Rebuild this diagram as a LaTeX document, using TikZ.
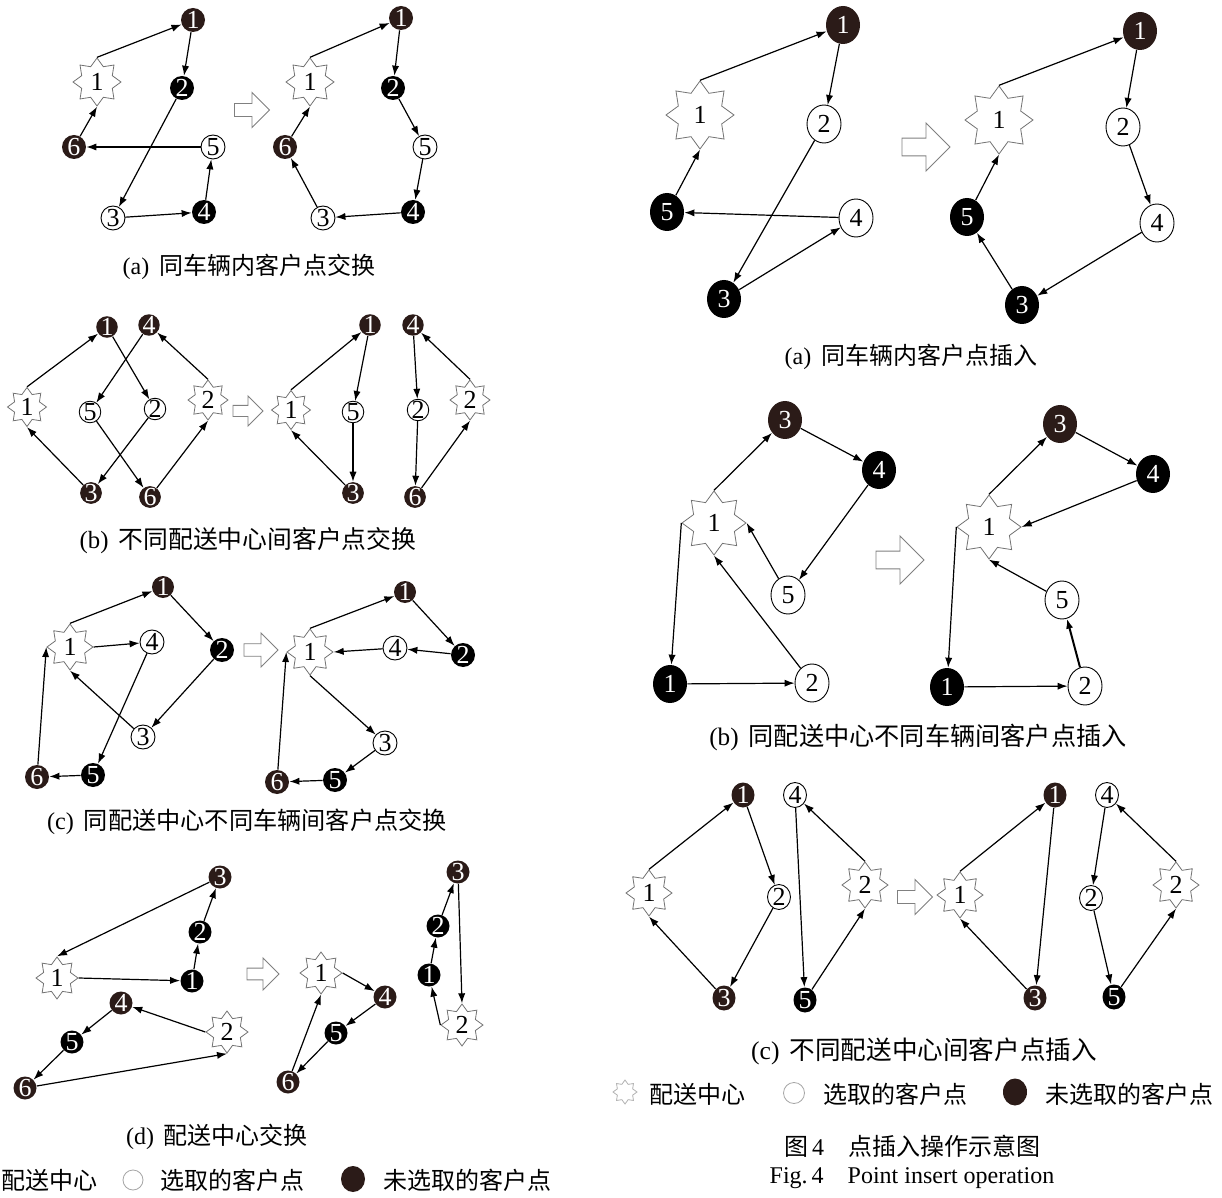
\documentclass[tikz,border=0pt]{standalone}
\usepackage{fontspec}
\setmainfont{Liberation Serif}
\newfontfamily\cjk{Noto Sans CJK SC}
\usetikzlibrary{shapes.geometric,arrows.meta}
\definecolor{nodebrown}{HTML}{2B1B18}
\definecolor{starline}{gray}{0.45}
\begin{document}
\begin{tikzpicture}[x=0.5pt,y=-0.5pt,
  num/.style={font=\fontsize{13}{13}\selectfont, inner sep=0pt},
  bn/.style={num, circle, fill=nodebrown, text=white, minimum size=#1},
  kn/.style={num, circle, fill=black, text=white, minimum size=#1},
  wn/.style={num, circle, draw=black, line width=0.45pt, fill=white, minimum size=#1},
  esz/.style 2 args={minimum width=#1, minimum height=#2},
  ebn/.style={num, ellipse, fill=nodebrown, text=white},
  ekn/.style={num, ellipse, fill=black, text=white},
  ewn/.style={num, ellipse, draw=black, line width=0.45pt, fill=white},
  st/.style={num, star, star points=8, star point ratio=1.45, draw=starline,
    line width=0.4pt, fill=white, minimum size=#1},
  arr/.style={draw, line width=0.6pt, -{Latex[length=5pt,width=3.6pt]}},
  captext/.style={font=\fontsize{#1}{#1}\selectfont, inner sep=0pt},
  captext/.default=12,
  harrow/.pic={\draw[line width=0.45pt, draw=gray]
    (-1,-0.37) -- (0,-0.37) -- (0,-1) -- (1,0) -- (0,1) -- (0,0.37) -- (-1,0.37) -- cycle;}
]
\fill[white] (0,0) rectangle (1222,1198);
\useasboundingbox (0,0) rectangle (1222,1198);

% ---------- (a) swap inside one vehicle ----------
\node[st=24pt] (a1s) at (97,82) {1};
\node[bn=12pt] (a11) at (193,20) {1};
\node[kn=12pt] (a12) at (182,88) {2};
\node[wn=12pt] (a13) at (113,218) {3};
\node[kn=12pt] (a14) at (204,212) {4};
\node[wn=12pt] (a15) at (213,147) {5};
\node[bn=12pt] (a16) at (74,147) {6};
\draw[arr] (a1s.90) -- (a11);
\draw[arr] (a11) -- (a12);
\draw[arr] (a12) -- (a13);
\draw[arr] (a13) -- (a14);
\draw[arr] (a14) -- (a15);
\draw[arr] (a15) -- (a16);
\draw[arr] (a16) -- (a1s.270);
\pic[scale=17.5] at (252,110) {harrow};
\node[st=24pt] (a2s) at (310,82) {1};
\node[bn=12pt] (a21) at (401,18) {1};
\node[kn=12pt] (a22) at (393,88) {2};
\node[wn=12pt] (a23) at (323,218) {3};
\node[kn=12pt] (a24) at (413,212) {4};
\node[wn=12pt] (a25) at (425,147) {5};
\node[bn=12pt] (a26) at (285,147) {6};
\draw[arr] (a2s.90) -- (a21);
\draw[arr] (a21) -- (a22);
\draw[arr] (a22) -- (a25);
\draw[arr] (a25) -- (a24);
\draw[arr] (a24) -- (a23);
\draw[arr] (a23) -- (a26);
\draw[arr] (a26) -- (a2s.270);
\node[captext] (capa) at (249,267) {(a)\hspace{5pt}{\cjk 同车辆内客户点交换}};

% ---------- (b) swap between depots ----------
\node[st=19.5pt] (b1s) at (27,407) {1};
\node[st=20pt] (b1t) at (208,400) {2};
\node[bn=10.5pt] (b11) at (107,327) {1};
\node[bn=10.5pt] (b14) at (149,325) {4};
\node[wn=10.5pt] (b15) at (90,412) {5};
\node[wn=10.5pt] (b12) at (155,409) {2};
\node[bn=10.5pt] (b13) at (91,493) {3};
\node[bn=10.5pt] (b16) at (150,497) {6};
\draw[arr] (b1s.90) -- (b11);
\draw[arr] (b11) -- (b12);
\draw[arr] (b12) -- (b13);
\draw[arr] (b13) -- (b1s.270);
\draw[arr] (b1t.90) -- (b14);
\draw[arr] (b14) -- (b15);
\draw[arr] (b15) -- (b16);
\draw[arr] (b16) -- (b1t.270);
\pic[scale=15] at (248,411) {harrow};
\node[st=19.5pt] (b2s) at (291,410) {1};
\node[st=20pt] (b2t) at (470,400) {2};
\node[bn=10.5pt] (b21) at (370,325) {1};
\node[wn=10.5pt] (b25) at (353,412) {5};
\node[bn=10.5pt] (b23) at (353,493) {3};
\node[bn=10.5pt] (b24) at (413,325) {4};
\node[wn=10.5pt] (b22) at (418,410) {2};
\node[bn=10.5pt] (b26) at (415,497) {6};
\draw[arr] (b2s.90) -- (b21);
\draw[arr] (b21) -- (b25);
\draw[arr] (b25) -- (b23);
\draw[arr] (b23) -- (b2s.270);
\draw[arr] (b2t.90) -- (b24);
\draw[arr] (b24) -- (b22);
\draw[arr] (b22) -- (b26);
\draw[arr] (b26) -- (b2t.270);
\node[captext=12.4] (capb) at (248,541) {(b)\hspace{5pt}{\cjk 不同配送中心间客户点交换}};

% ---------- (c) swap between vehicles of one depot ----------
\node[st=23pt] (c1s) at (70,647) {1};
\node[bn=11pt] (c11) at (163,587) {1};
\node[kn=12pt] (c12) at (222,650) {2};
\node[wn=12pt] (c13) at (143,737) {3};
\node[wn=12pt] (c14) at (152,642) {4};
\node[kn=12pt] (c15) at (93,775) {5};
\node[bn=12pt] (c16) at (37,777) {6};
\draw[arr] (c1s.90) -- (c11);
\draw[arr] (c11) -- (c12);
\draw[arr] (c12) -- (c13);
\draw[arr] (c13) -- (c1s.270);
\draw[arr] (c1s.0) -- (c14);
\draw[arr] (c14) -- (c15);
\draw[arr] (c15) -- (c16);
\draw[arr] (c16) -- (c1s.180);
\pic[scale=17] at (261,650) {harrow};
\node[st=23pt] (c2s) at (310,652) {1};
\node[bn=11pt] (c21) at (405,592) {1};
\node[kn=12pt] (c22) at (463,655) {2};
\node[wn=12pt] (c23) at (385,743) {3};
\node[wn=12pt] (c24) at (395,648) {4};
\node[kn=12pt] (c25) at (335,780) {5};
\node[bn=12pt] (c26) at (277,782) {6};
\draw[arr] (c2s.90) -- (c21);
\draw[arr] (c21) -- (c22);
\draw[arr] (c22) -- (c24);
\draw[arr] (c24) -- (c2s.0);
\draw[arr] (c2s.270) -- (c23);
\draw[arr] (c23) -- (c25);
\draw[arr] (c25) -- (c26);
\draw[arr] (c26) -- (c2s.180);
\node[captext=12.1] (capc) at (247,822) {(c)\hspace{5pt}{\cjk 同配送中心不同车辆间客户点交换}};

% ---------- (d) depot swap ----------
\node[st=21pt] (d1s) at (57,978) {1};
\node[st=21pt] (d1t) at (227,1032) {2};
\node[kn=11.5pt] (d11) at (192,981) {1};
\node[kn=11.5pt] (d12) at (200,932) {2};
\node[bn=11.5pt] (d13) at (220,877) {3};
\node[bn=11.5pt] (d14) at (121,1003) {4};
\node[kn=11.5pt] (d15) at (72,1042) {5};
\node[bn=11.5pt] (d16) at (25,1088) {6};
\draw[arr] (d1s.0) -- (d11);
\draw[arr] (d11) -- (d12);
\draw[arr] (d12) -- (d13);
\draw[arr] (d13) -- (d1s.90);
\draw[arr] (d1t.180) -- (d14);
\draw[arr] (d14) -- (d15);
\draw[arr] (d15) -- (d16);
\draw[arr] (d16) -- (d1t.270);
\pic[scale=16] at (263,974) {harrow};
\node[st=21pt] (d2s) at (321,973) {1};
\node[st=21pt] (d2t) at (462,1025) {2};
\node[kn=11.5pt] (d21) at (429,975) {1};
\node[kn=11.5pt] (d22) at (438,926) {2};
\node[bn=11.5pt] (d23) at (458,872) {3};
\node[bn=11.5pt] (d24) at (385,997) {4};
\node[kn=11.5pt] (d25) at (336,1033) {5};
\node[bn=11.5pt] (d26) at (288,1082) {6};
\draw[arr] (d2s.0) -- (d24);
\draw[arr] (d24) -- (d25);
\draw[arr] (d25) -- (d26);
\draw[arr] (d26) -- (d2s.270);
\draw[arr] (d2t.180) -- (d21);
\draw[arr] (d21) -- (d22);
\draw[arr] (d22) -- (d23);
\draw[arr] (d23) -- (d2t.90);
\node[captext] (capd) at (217,1137) {(d)\hspace{5pt}{\cjk 配送中心交换}};

% legend, left column
\node[captext, anchor=west] (lgl1) at (1,1180) {\cjk 配送中心};
\node[circle, draw=gray!70, line width=0.4pt, minimum size=10pt, inner sep=0pt] (lgl2) at (133,1180) {};
\node[captext, anchor=west] (lgl3) at (160,1180) {\cjk 选取的客户点};
\node[ellipse, fill=nodebrown, minimum width=12pt, minimum height=13pt, inner sep=0pt] (lgl4) at (353,1179) {};
\node[captext, anchor=west] (lgl5) at (383,1180) {\cjk 未选取的客户点};

% ---------- right (a) insertion inside one vehicle ----------
\node[st=34pt] (p1s) at (700,115) {1};
\node[ebn, esz={17pt}{19pt}] (p11) at (843,25) {1};
\node[ewn, esz={17pt}{19pt}] (p12) at (824,124) {2};
\node[ekn, esz={17pt}{19pt}] (p13) at (724,299) {3};
\node[ewn, esz={17pt}{19pt}] (p14) at (856,218) {4};
\node[ekn, esz={17pt}{19pt}] (p15) at (667,212) {5};
\draw[arr] (p1s.90) -- (p11);
\draw[arr] (p11) -- (p12);
\draw[arr] (p12) -- (p13);
\draw[arr] (p13) -- (p14);
\draw[arr] (p14) -- (p15);
\draw[arr] (p15) -- (p1s.270);
\pic[scale=24] at (926,147) {harrow};
\node[st=34pt] (p2s) at (999,120) {1};
\node[ebn, esz={17pt}{19pt}] (p21) at (1140,31) {1};
\node[ewn, esz={17pt}{19pt}] (p22) at (1123,127) {2};
\node[ekn, esz={17pt}{19pt}] (p23) at (1022,305) {3};
\node[ewn, esz={17pt}{19pt}] (p24) at (1157,223) {4};
\node[ekn, esz={17pt}{19pt}] (p25) at (967,217) {5};
\draw[arr] (p2s.90) -- (p21);
\draw[arr] (p21) -- (p22);
\draw[arr] (p22) -- (p24);
\draw[arr] (p24) -- (p23);
\draw[arr] (p23) -- (p25);
\draw[arr] (p25) -- (p2s.270);
\node[captext] (capp) at (911,357) {(a)\hspace{5pt}{\cjk 同车辆内客户点插入}};

% ---------- right (b) insertion between vehicles of one depot ----------
\node[st=32pt] (q1s) at (714,523) {1};
\node[ekn, esz={17pt}{19pt}] (q11) at (670,684) {1};
\node[ewn, esz={17pt}{19pt}] (q12) at (812,683) {2};
\node[ebn, esz={17pt}{19pt}] (q13) at (785,420) {3};
\node[ekn, esz={17pt}{19pt}] (q14) at (879,470) {4};
\node[ewn, esz={17pt}{19pt}] (q15) at (788,595) {5};
\draw[arr] (q1s.90) -- (q13);
\draw[arr] (q13) -- (q14);
\draw[arr] (q14) -- (q15);
\draw[arr] (q15) -- (q1s.0);
\draw[arr] (q1s.180) -- (q11);
\draw[arr] (q11) -- (q12);
\draw[arr] (q12) -- (q1s.270);
\pic[scale=24] at (900,560) {harrow};
\node[st=32pt] (q2s) at (989,527) {1};
\node[ekn, esz={17pt}{19pt}] (q21) at (947,687) {1};
\node[ewn, esz={17pt}{19pt}] (q22) at (1085,686) {2};
\node[ebn, esz={17pt}{19pt}] (q23) at (1060,424) {3};
\node[ekn, esz={17pt}{19pt}] (q24) at (1153,474) {4};
\node[ewn, esz={17pt}{19pt}] (q25) at (1062,600) {5};
\draw[arr] (q2s.90) -- (q23);
\draw[arr] (q23) -- (q24);
\draw[arr] (q24) -- (q2s.0);
\draw[arr] (q2s.180) -- (q21);
\draw[arr] (q21) -- (q22);
\draw[arr, line width=1pt] (q22) -- (q25);
\draw[arr] (q25) -- (q2s.270);
\node[captext=12.6] (capq) at (918,737) {(b)\hspace{5pt}{\cjk 同配送中心不同车辆间客户点插入}};

% ---------- right (c) insertion between depots ----------
\node[st=23pt] (r1s) at (649,893) {1};
\node[st=23pt] (r1t) at (865,885) {2};
\node[ebn, esz={11.5pt}{12.5pt}] (r11) at (743,795) {1};
\node[ewn, esz={11.5pt}{12.5pt}] (r12) at (779,897) {2};
\node[ebn, esz={11.5pt}{12.5pt}] (r13) at (724,998) {3};
\node[ewn, esz={11.5pt}{12.5pt}] (r14) at (795,795) {4};
\node[ekn, esz={11.5pt}{12.5pt}] (r15) at (805,1000) {5};
\draw[arr] (r1s.90) -- (r11);
\draw[arr] (r11) -- (r12);
\draw[arr] (r12) -- (r13);
\draw[arr] (r13) -- (r1s.270);
\draw[arr] (r1t.90) -- (r14);
\draw[arr] (r14) -- (r15);
\draw[arr] (r15) -- (r1t.270);
\pic[scale=17.5] at (915,897) {harrow};
\node[st=23pt] (r2s) at (960,895) {1};
\node[st=23pt] (r2t) at (1176,885) {2};
\node[ebn, esz={11.5pt}{12.5pt}] (r21) at (1055,795) {1};
\node[ewn, esz={11.5pt}{12.5pt}] (r22) at (1091,898) {2};
\node[ebn, esz={11.5pt}{12.5pt}] (r23) at (1035,998) {3};
\node[ewn, esz={11.5pt}{12.5pt}] (r24) at (1107,795) {4};
\node[ekn, esz={11.5pt}{12.5pt}] (r25) at (1114,997) {5};
\draw[arr] (r2s.90) -- (r21);
\draw[arr] (r21) -- (r23);
\draw[arr] (r23) -- (r2s.270);
\draw[arr] (r2t.90) -- (r24);
\draw[arr] (r24) -- (r22);
\draw[arr] (r22) -- (r25);
\draw[arr] (r25) -- (r2t.270);
\node[captext=12.8] (capr) at (924,1051) {(c)\hspace{5pt}{\cjk 不同配送中心间客户点插入}};

% legend, right column
\node[st=12pt, draw=gray!60] (lgr1) at (625,1092) {};
\node[captext, anchor=west] (lgr2) at (649,1094) {\cjk 配送中心};
\node[circle, draw=gray!70, line width=0.4pt, minimum size=10.5pt, inner sep=0pt] (lgr3) at (794,1093) {};
\node[captext, anchor=west] (lgr4) at (823,1094) {\cjk 选取的客户点};
\node[ellipse, fill=nodebrown, minimum width=12pt, minimum height=13.5pt, inner sep=0pt] (lgr5) at (1015,1092) {};
\node[captext, anchor=west] (lgr6) at (1045,1094) {\cjk 未选取的客户点};

% figure title
\node[captext=12] (ttl1) at (912,1146) {{\cjk 图}\,4\quad{\cjk 点插入操作示意图}};
\node[captext=12] (ttl2) at (912,1178) {Fig.\,4\quad Point insert operation};
\end{tikzpicture}
\end{document}
